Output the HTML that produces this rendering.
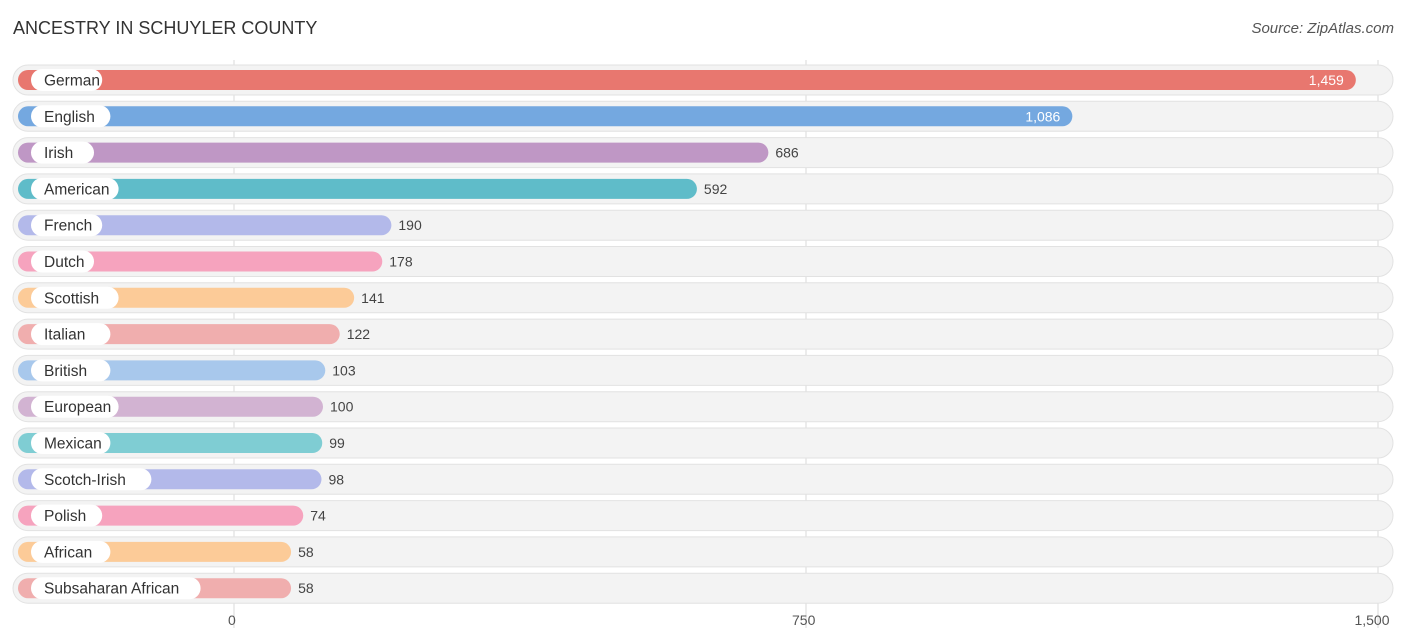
<!DOCTYPE html>
<html><head><meta charset="utf-8"><style>
body{margin:0;background:#fff;font-family:"Liberation Sans",sans-serif;}
#wrap{position:relative;width:1406px;height:644px;overflow:hidden;}
</style></head><body>
<div id="wrap">
<svg id="svg" width="1406" height="644">
<text x="13" y="34" font-size="18" fill="#333">ANCESTRY IN SCHUYLER COUNTY</text>
<text x="1394" y="33" font-size="15" fill="#555" font-style="italic" text-anchor="end">Source: ZipAtlas.com</text>
</svg>
</div>
<script>
const categories=["German","English","Irish","American","French","Dutch","Scottish","Italian","British","European","Mexican","Scotch-Irish","Polish","African","Subsaharan African"];
const values=[1459,1086,686,592,190,178,141,122,103,100,99,98,74,58,58];
const valueLabels=["1,459","1,086","686","592","190","178","141","122","103","100","99","98","74","58","58"];
const tickValues=[0,750,1500];
const tickLabels=["0","750","1,500"];
const colors=["#e8776f","#74a8e0","#bf97c5","#5fbcc9","#b3b9ea","#f6a3be","#fccb98","#f0aeae","#a8c8ec","#d2b3d2","#7fcdd3","#b3b9ea","#f6a3be","#fccb98","#f0aeae"];
const NS="http://www.w3.org/2000/svg";
const svg=document.getElementById('svg');
function gx(v){return 234+v*572/750;}
function bx(v){return 247+v*0.76;}
function ry(i){return 80+i*36.3;}
function mk(t,a,p){const e=document.createElementNS(NS,t);for(const k in a)e.setAttribute(k,a[k]);(p||svg).appendChild(e);return e;}
const grid=mk('g',{});


const rows=mk('g',{});


categories.forEach((c,i)=>{
  const y=ry(i);
  const bg=mk('rect',{x:13,y:y-15,width:1380,height:30,rx:15,fill:'#f3f3f3',stroke:'#e2e2e2','stroke-width':1},rows);
  
  
});
tickValues.forEach((t,i)=>{
  const l=mk('line',{x1:gx(t),x2:gx(t),y1:60,y2:628,stroke:'#d8d8d8','stroke-width':1},grid);
  
  
  const tx=mk('text',{x:gx(t)+(i==2?-6:(i==0?-6:-14)),y:625,'font-size':14,fill:'#555','text-anchor':i==2?'middle':'start'});
  tx.textContent=tickLabels[i];
  
  
});
categories.forEach((c,i)=>{
  const y=ry(i);const end=bx(values[i]);
  const b=mk('rect',{x:18,y:y-10,width:end-18,height:20,rx:10,fill:colors[i]},rows);
  
  
  const w=c.length*8.2+22;
  const p=mk('rect',{x:31,y:y-11,width:w,height:22,rx:11,fill:'#fff'},rows);
  
  
  const t=mk('text',{x:44,y:y+5.5,'font-size':15.5,fill:'#333'},rows);
  t.textContent=c;
  
  
  const inside=values[i]>1000;
  const v=mk('text',{x:inside?end-12:end+7,y:y+5,'font-size':14,fill:inside?'#fff':'#444','text-anchor':inside?'end':'start'},rows);
  v.textContent=valueLabels[i];
  
  
});
</script>
</body></html>
